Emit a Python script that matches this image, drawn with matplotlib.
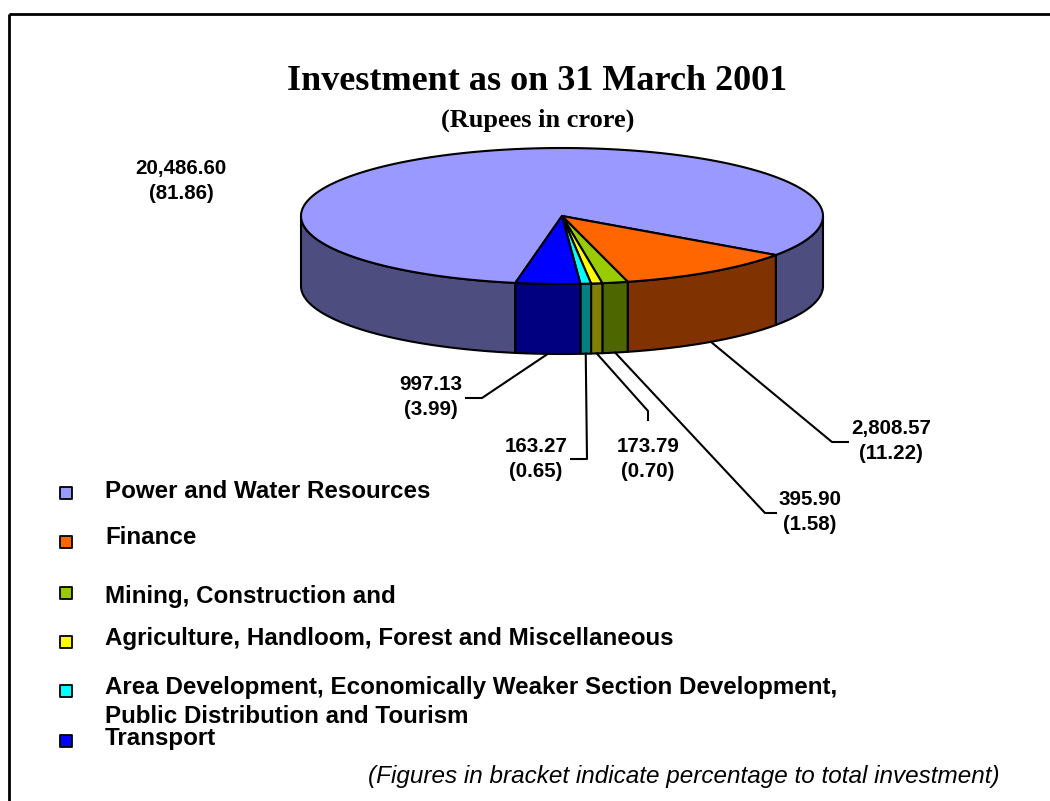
import numpy as np
import matplotlib
matplotlib.use("Agg")
import matplotlib.pyplot as plt
from matplotlib.patches import Polygon

# data
sectors = ["Power and Water Resources",
           "Finance",
           "Mining, Construction and",
           "Agriculture, Handloom, Forest and Miscellaneous",
           "Area Development, Economically Weaker Section Development,\nPublic Distribution and Tourism",
           "Transport"]
values = [20486.60, 2808.57, 395.90, 173.79, 163.27, 997.13]
percents = [81.86, 11.22, 1.58, 0.70, 0.65, 3.99]

top_colors = ["#9999ff", "#ff6600", "#99cc00", "#ffff00", "#00ffff", "#0000ff"]
side_colors = ["#4d4d80", "#803300", "#4d6600", "#808000", "#008080", "#000080"]

# pie geometry (pixels)
cx, cy, ra, rb, depth = 562, 216, 261, 68, 70
start = 259.7

# label layout: text centre, leader points (None = no leader)
label_pos = [(181, 181), (891, 441), (810, 512), (648, 459), (536, 459), (431, 397)]
leaders = [None,
           [(832, 442), (848, 442)],
           [(765, 513), (776, 513)],
           [(648, 411), (648, 420)],
           [(587, 459), (571, 459)],
           [(482, 398), (466, 398)]]

legend_marker_y = [493, 542, 593, 642, 691, 741]
legend_text_y = [492, 538, 596, 638, 702, 738]

fig = plt.figure(figsize=(10.5, 8.01), dpi=100)
ax = fig.add_axes([0, 0, 1, 1])
ax.set_xlim(0, 1050)
ax.set_ylim(801, 0)
ax.axis("off")


def pt(t, dz=0):
    t = np.radians(t)
    return cx + ra * np.cos(t), cy - rb * np.sin(t) + dz


def front_parts(lo, hi):
    parts = []
    for k in (-1, 0, 1):
        s, e = max(lo, -180 + 360 * k), min(hi, 360 * k)
        if e > s:
            parts.append((s, e))
    return parts


total = sum(values)
fr = np.array(values) / total
cum = np.concatenate([[0], np.cumsum(fr)])
angles = [(start - cum[i + 1] * 360, start - cum[i] * 360) for i in range(len(values))]

# sides
for i, (lo, hi) in enumerate(angles):
    for s, e in front_parts(lo, hi):
        tt = np.linspace(s, e, 80)
        xs, ys = pt(tt)
        poly = np.concatenate([np.c_[xs, ys], np.c_[xs, ys + depth][::-1]])
        ax.add_patch(Polygon(poly, closed=True, fc=side_colors[i], ec="black", lw=1.5, joinstyle="round"))

# tops
for i, (lo, hi) in enumerate(angles):
    tt = np.linspace(lo, hi, 200)
    xs, ys = pt(tt)
    poly = np.concatenate([[[cx, cy]], np.c_[xs, ys]])
    ax.add_patch(Polygon(poly, closed=True, fc=top_colors[i], ec="black", lw=1.5, joinstyle="round"))

# data labels and leaders
for i, (lo, hi) in enumerate(angles):
    lx, ly = label_pos[i]
    ax.text(lx, ly, f"{values[i]:,.2f}\n({percents[i]:.2f})", ha="center", va="center",
            fontsize=14.8, fontweight="bold", family="Liberation Sans", linespacing=1.36)
    if leaders[i] is not None:
        mid = (lo + hi) / 2
        ax0, ay0 = pt(mid, depth)
        xs = [ax0] + [p[0] for p in leaders[i]]
        ys = [ay0] + [p[1] for p in leaders[i]]
        ax.plot(xs, ys, color="black", lw=1.5)

# legend
for i, name in enumerate(sectors):
    ax.scatter([66], [legend_marker_y[i]], marker="s", s=85, c=top_colors[i], edgecolors="black", linewidths=1.3, zorder=5)
    ax.text(105, legend_text_y[i], name, ha="left", va="center", fontsize=17.4, fontweight="bold",
            family="Liberation Sans", linespacing=1.3)

# titles
ax.text(537, 90, "Investment as on 31 March 2001", ha="center", va="baseline", fontsize=26,
        fontweight="bold", family="Liberation Serif")
ax.text(538, 127, "(Rupees in crore)", ha="center", va="baseline", fontsize=19,
        fontweight="bold", family="Liberation Serif")
ax.text(1000, 776, "(Figures in bracket indicate percentage to total investment)", ha="right", va="center",
        fontsize=17.5, style="italic", family="Liberation Sans")

# frame
ax.plot([9, 1050], [13.5, 13.5], color="black", lw=2, solid_capstyle="butt")
ax.plot([9, 9], [13.5, 801], color="black", lw=2, solid_capstyle="butt")

fig.savefig("out.png", dpi=100)
